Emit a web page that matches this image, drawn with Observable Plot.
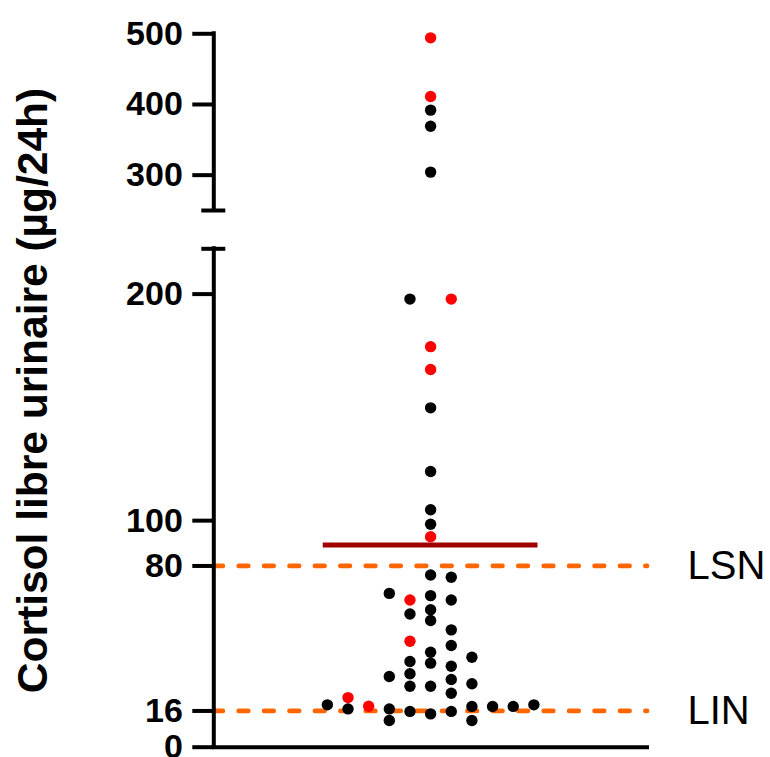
<!DOCTYPE html>
<html>
<head>
<meta charset="utf-8">
<script src="https://cdn.jsdelivr.net/npm/d3@7"></script>
<script src="https://cdn.jsdelivr.net/npm/@observablehq/plot@0.6"></script>
<style>
  html, body { margin: 0; padding: 0; background: white; }
</style>
</head>
<body>
<div id="chart"></div>
<script>
// ---- Data ----
// Urinary free cortisol values (µg/24h)
const cortisol = [
  494.3, 411.3, 392.0, 369.2, 304.3,
  197.8, 197.8, 176.8, 166.7, 149.8, 121.7, 104.8, 98.4, 92.9,
  18.7,
  21.9, 16.9,
  18.1,
  67.9, 31.2, 16.9, 11.8,
  65.0, 58.8, 46.8, 37.8, 32.4, 26.9, 15.8,
  76.0, 66.9, 60.7, 55.9, 41.9, 37.1, 26.9, 14.7,
  75.0, 65.0, 51.8, 44.9, 35.7, 29.9, 23.8, 15.8,
  39.7, 28.0, 18.0, 11.8,
  18.0,
  18.0,
  18.7
];
// Swarm column of each point (0 = centre column)
const swarmColumn = [
  0, 0, 0, 0, 0,
  -1, 1, 0, 0, 0, 0, 0, 0, 0,
  -5,
  -4, -4,
  -3,
  -2, -2, -2, -2,
  -1, -1, -1, -1, -1, -1, -1,
  0, 0, 0, 0, 0, 0, 0, 0,
  1, 1, 1, 1, 1, 1, 1, 1,
  2, 2, 2, 2,
  3,
  4,
  5
];
// Point group (colour)
const group = [
  "rouge", "rouge", "noir", "noir", "noir",
  "noir", "rouge", "rouge", "rouge", "noir", "noir", "noir", "noir", "rouge",
  "noir",
  "rouge", "noir",
  "rouge",
  "noir", "noir", "noir", "noir",
  "rouge", "noir", "rouge", "noir", "noir", "noir", "noir",
  "noir", "noir", "noir", "noir", "noir", "noir", "noir", "noir",
  "noir", "noir", "noir", "noir", "noir", "noir", "noir", "noir",
  "noir", "noir", "noir", "noir",
  "noir",
  "noir",
  "noir"
];
const groups = ["noir", "rouge"];
const groupColors = ["#000000", "#ff0000"];

// Reference limits
const refValues = [80, 16];
const refLabels = ["LSN", "LIN"];

// Axis
const yTicks = [0, 16, 80, 100, 200, 300, 400, 500];
const yDomain = [0, 220, 250, 500];        // broken axis: 220 → 250 gap
const axisSegments = [[0, 220], [250, 500]];
const breakValues = [220, 250];
const yTitle = "Cortisol libre urinaire (µg/24h)";
const meanHalfWidth = 5.2; // half width of the mean bar, in swarm columns

const table = cortisol.map((v, i) => ({value: v, col: swarmColumn[i], group: group[i]}));
const meanValue = d3.mean(cortisol);
const xDomain = [-10.5, 10.6];

const chart = Plot.plot({
  width: 770,
  height: 757,
  marginLeft: 213.3,
  marginRight: 121,
  marginTop: 33.3,
  marginBottom: 10.3,
  style: {fontFamily: "'Liberation Sans', Arial, sans-serif", color: "black", background: "white"},
  x: {type: "linear", domain: xDomain, axis: null},
  y: {type: "linear", domain: yDomain, range: [746.7, 248.3, 210, 33.3], axis: null},
  color: {domain: groups, range: groupColors},
  marks: [
    // reference dashed lines
    Plot.ruleY(refValues, {
      stroke: "#ff6600", strokeWidth: 4.8, strokeLinecap: "round",
      strokeDasharray: "9.5,15.92", insetRight: 2
    }),
    Plot.text(refValues, {
      x: xDomain[1], y: d => d, text: (d, i) => refLabels[i],
      textAnchor: "start", dx: 38, fontSize: 40, fill: "black"
    }),
    // axes lines
    Plot.ruleX(axisSegments, {
      x: () => xDomain[0], y1: d => d[0], y2: d => d[1],
      stroke: "black", strokeWidth: 4, strokeLinecap: "square"
    }),
    Plot.ruleY(breakValues, {
      x1: xDomain[0], x2: xDomain[0], insetLeft: -12, insetRight: -12,
      stroke: "black", strokeWidth: 4
    }),
    Plot.ruleY([0], {stroke: "black", strokeWidth: 4, insetLeft: -2}),
    Plot.axisY(yTicks, {
      tickSize: 21, tickPadding: 10, fontSize: 34, fontWeight: "bold",
      strokeWidth: 4, tickFormat: d => String(d), label: null
    }),
    Plot.text([yTitle], {
      frameAnchor: "left", dx: -180, rotate: -90, text: d => d,
      textAnchor: "middle", lineAnchor: "middle",
      fontSize: 42.5, fontWeight: "bold", fill: "black"
    }),
    // mean bar
    Plot.ruleY([meanValue], {
      x1: -meanHalfWidth, x2: meanHalfWidth, stroke: "#a00000", strokeWidth: 5
    }),
    // points
    Plot.dot(table, {x: "col", y: "value", fill: "group", r: 5.7, stroke: null})
  ]
});
document.getElementById("chart").appendChild(chart);
</script>
</body>
</html>
